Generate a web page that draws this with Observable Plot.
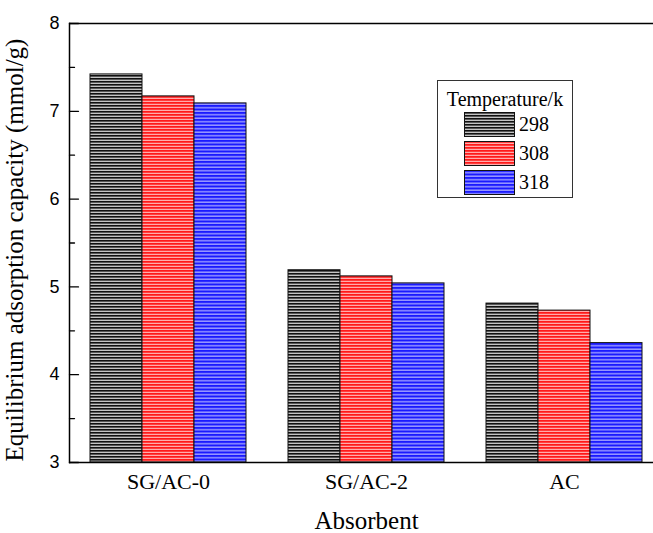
<!DOCTYPE html>
<html>
<head>
<meta charset="utf-8">
<script src="https://cdn.jsdelivr.net/npm/d3@7"></script>
<script src="https://cdn.jsdelivr.net/npm/@observablehq/plot@0.6"></script>
<style>
  html, body { margin: 0; padding: 0; background: #fff; overflow: hidden; }
  #wrap { position: relative; width: 653px; height: 533px; overflow: hidden; }
  #legend { position: absolute; left: 437px; top: 80px; width: 134px; height: 116px;
    border: 1px solid #333; background: #fff; font-family: "Liberation Serif", serif; color: #000; }
  #legend .title { position: absolute; left: 0; right: 0; top: 6px; text-align: center; font-size: 20px; line-height: 24px; }
  #legend .row { position: absolute; left: 26px; height: 24px; }
  #legend .row svg { position: absolute; left: 0; top: 0; }
  #legend .row span { position: absolute; left: 55px; top: 0; font-size: 20px; line-height: 24px; }
</style>
</head>
<body>
<svg width="0" height="0" style="position:absolute">
  <defs>
    <pattern id="p298" width="4" height="3" patternUnits="userSpaceOnUse">
      <rect width="4" height="3" fill="#c4c4c4"></rect>
      <rect y="0" width="4" height="1.6" fill="#111"></rect>
    </pattern>
    <pattern id="p308" width="4" height="3" patternUnits="userSpaceOnUse">
      <rect width="4" height="3" fill="#ff1a1a"></rect>
      <rect y="1.8" width="4" height="1" fill="#ffd0d0"></rect>
    </pattern>
    <pattern id="p318" width="4" height="3.5" patternUnits="userSpaceOnUse">
      <rect width="4" height="3.5" fill="#1a1aff"></rect>
      <rect y="2.2" width="4" height="1" fill="#d8d8ff"></rect>
    </pattern>
  </defs>
</svg>
<div id="wrap"></div>
<script>
const categories = ["SG/AC-0", "SG/AC-2", "AC"];
const temperatures = ["298", "308", "318"];
const values298 = [7.42, 5.19, 4.81];
const values308 = [7.17, 5.12, 4.73];
const values318 = [7.09, 5.04, 4.36];
const yDomain = [3, 8];
const yTicks = [3, 4, 5, 6, 7, 8];
const yMinorTicks = [3.5, 4.5, 5.5, 6.5, 7.5];
const patterns = ["url(#p298)", "url(#p308)", "url(#p318)"];
const yLabel = "Equilibrium adsorption capacity (mmol/g)";
const xLabel = "Absorbent";
const legendTitle = "Temperature/k";

const series = [values298, values308, values318];
const data = categories.flatMap((c, i) =>
  temperatures.map((t, j) => ({absorbent: c, temp: t, value: series[j][i]}))
);

const serif = "Liberation Serif, Times New Roman, serif";
const sans = "Liberation Sans, Arial, sans-serif";

// straight inward tick shape for the vector mark
const tickShape = {draw(context, l) { context.moveTo(0, 0); context.lineTo(0, -l); }};

const chart = Plot.plot({
  width: 653,
  height: 533,
  marginTop: 23,
  marginBottom: 71,
  marginLeft: 69,
  marginRight: -10,
  style: {fontFamily: serif, fontSize: "24px", color: "#000"},
  fx: {domain: categories, padding: 0, label: null, axis: null},
  x: {domain: temperatures, paddingInner: 0, paddingOuter: 0.377, axis: null},
  y: {domain: yDomain, axis: null},
  color: {domain: temperatures, range: patterns},
  marks: [
    Plot.barY(data, {fx: "absorbent", x: "temp", y1: yDomain[0], y2: "value", fill: "temp", stroke: "#111", strokeWidth: 1}),
    Plot.ruleY(yDomain, {stroke: "#000", strokeWidth: 1.5}),
    Plot.frame({anchor: "left", facetAnchor: "left", stroke: "#000", strokeWidth: 1.5}),
    Plot.vector(yTicks, {y: d => d, frameAnchor: "left", rotate: 90, length: 9, anchor: "start", shape: tickShape, stroke: "#000", strokeWidth: 1.3, facetAnchor: "left"}),
    Plot.vector(yMinorTicks, {y: d => d, frameAnchor: "left", rotate: 90, length: 5, anchor: "start", shape: tickShape, stroke: "#000", strokeWidth: 1.3, facetAnchor: "left"}),
    Plot.axisY({ticks: yTicks, tickSize: 0, tickPadding: 10, tickFormat: d3.format("d"), fontFamily: sans, fontSize: 18, label: null}),
    Plot.text([yLabel], {facetAnchor: "left", frameAnchor: "left", textAnchor: "middle", rotate: -90, lineAnchor: "middle", dx: -55, dy: 7, fontFamily: serif, fontSize: 25, fill: "#000"}),
    Plot.axisFx({anchor: "bottom", tickSize: 0, tickPadding: 11, fontFamily: serif, fontSize: 22, label: null}),
    Plot.text([xLabel], {facet: "super", frameAnchor: "bottom", lineAnchor: "bottom", dy: 66, fontFamily: serif, fontSize: 25, fill: "#000"})
  ]
});
document.getElementById("wrap").appendChild(chart);

// legend
const legend = document.createElement("div");
legend.id = "legend";
const title = document.createElement("div");
title.className = "title";
title.textContent = legendTitle;
legend.appendChild(title);
temperatures.forEach((t, i) => {
  const row = document.createElement("div");
  row.className = "row";
  row.style.top = (31 + i * 29) + "px";
  row.innerHTML = `<svg width="51" height="25"><rect x="0.5" y="0.5" width="50" height="24" fill="${patterns[i]}" stroke="#111" stroke-width="1"></rect></svg><span>${t}</span>`;
  legend.appendChild(row);
});
document.getElementById("wrap").appendChild(legend);
</script>
</body>
</html>
